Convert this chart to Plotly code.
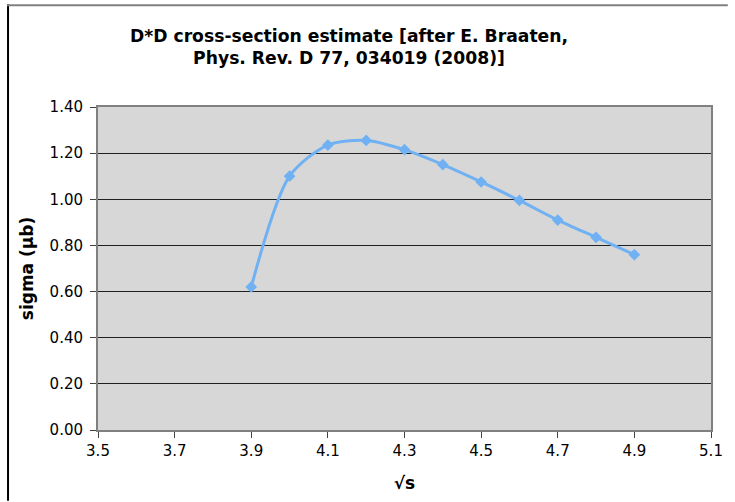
import plotly.graph_objects as go

sqrt_s = [3.9, 4.0, 4.1, 4.2, 4.3, 4.4, 4.5, 4.6, 4.7, 4.8, 4.9]
sigma = [0.62, 1.10, 1.235, 1.255, 1.215, 1.15, 1.075, 0.995, 0.91, 0.835, 0.76]
x_ticks = [3.5, 3.7, 3.9, 4.1, 4.3, 4.5, 4.7, 4.9, 5.1]
y_ticks = [0.0, 0.2, 0.4, 0.6, 0.8, 1.0, 1.2, 1.4]

FONT = "DejaVu Sans"
W, H = 735, 502
L, R, T, B = 98, 17, 107, 71
PW, PH = W - L - R, H - T - B


def px(fx):
    return (fx - L) / PW


def py(fy):
    return (H - B - fy) / PH


fig = go.Figure()
fig.add_trace(go.Scatter(
    x=sqrt_s, y=sigma, mode="lines+markers",
    line=dict(color="#70B1F3", width=3, shape="spline", smoothing=0.8),
    marker=dict(symbol="diamond", size=9, color="#70B1F3"),
    showlegend=False,
))

fig.update_layout(
    width=W, height=H,
    margin=dict(l=L, r=R, t=T, b=B),
    paper_bgcolor="white",
    plot_bgcolor="#D7D7D7",
    font=dict(family=FONT, size=15, color="black"),
    title=dict(
        text="<b>D*D cross-section estimate [after E. Braaten,<br>Phys. Rev. D 77, 034019 (2008)]</b>",
        x=349 / W, xanchor="center", xref="container",
        y=1 - 42 / H, yanchor="top", yref="container",
        font=dict(family=FONT, size=17.2, color="black"),
    ),
    xaxis=dict(
        range=[3.5, 5.1], tickvals=x_ticks, tickformat=".1f",
        showgrid=False, zeroline=False,
        showline=True, linecolor="#808080", linewidth=2, mirror=True,
        ticks="outside", ticklen=6, tickcolor="#404040",
        title=dict(text="<b>√s</b>", font=dict(family=FONT, size=17), standoff=18),
    ),
    yaxis=dict(
        range=[0, 1.4], tickvals=y_ticks, tickformat=".2f",
        showgrid=True, gridcolor="#202020", gridwidth=1, zeroline=False,
        showline=True, linecolor="#808080", linewidth=2, mirror=True,
        ticks="outside", ticklen=6, tickcolor="#404040",
        ticklabelstandoff=4,
        title=dict(text="<b>sigma (μb)</b>", font=dict(family=FONT, size=17), standoff=12),
    ),
    shapes=[
        dict(type="line", xref="paper", yref="paper",
             x0=px(7), x1=px(7), y0=py(4), y1=py(H),
             line=dict(color="black", width=2)),
        dict(type="line", xref="paper", yref="paper",
             x0=px(6), x1=px(W), y0=py(5), y1=py(5),
             line=dict(color="#808080", width=2)),
    ],
)

fig.write_html(
    "out.html",
    config={"displayModeBar": False},
    post_script="document.body.style.margin='0';document.body.style.overflow='hidden';",
)
